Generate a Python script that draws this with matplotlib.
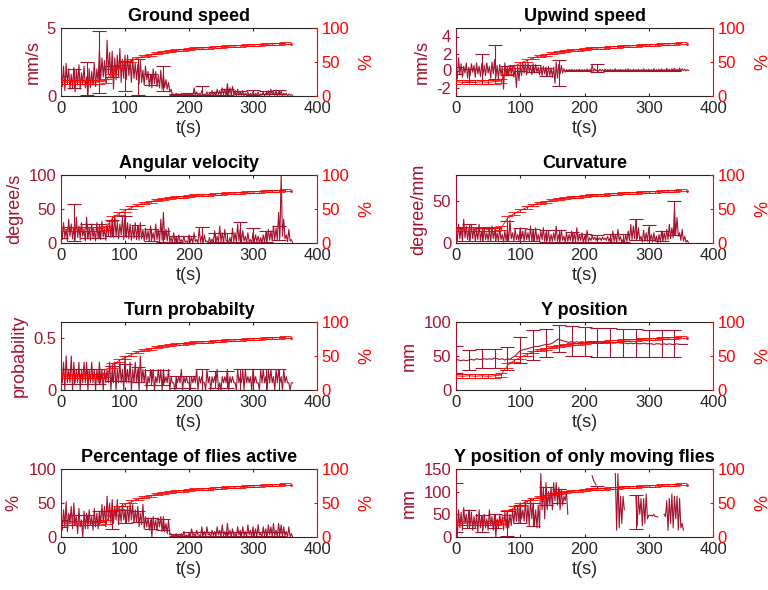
import numpy as np
import matplotlib
matplotlib.use("Agg")
import matplotlib.pyplot as plt
from matplotlib.ticker import FormatStrFormatter

plt.rcParams['font.family'] = ['Liberation Sans', 'DejaVu Sans']

DARK = '#A2142F'
RED = '#FF0000'
GREY = '#262626'
nan = np.nan

# time bins of the traces (s); in every 4 s bin the trace hits a peak (hi) and a trough (lo)
t = np.arange(0, 361, 4)

gs_hi = [1.8, 2.2, 2.4, 2.0, 1.6, 2.1, 1.9, 2.3, 1.7, 2.2,
         1.4, 2.0, 1.8, 2.4, 2.0, 3.4, 2.8, 2.6, 4.1, 3.2,
         3.3, 2.8, 3.0, 3.5, 2.7, 3.0, 3.0, 2.6, 2.8, 2.4,
         2.3, 2.6, 1.9, 2.2, 1.8, 1.6, 2.0, 1.8, 1.5, 1.9,
         1.6, 1.2, 1.0, 0.5, 0.15, 0.2, 0.15, 0.2, 0.2, 0.15,
         0.2, 0.15, 0.6, 0.3, 0.2, 0.4, 0.15, 0.3, 0.2, 0.4,
         0.3, 0.5, 0.4, 0.6, 0.5, 0.9, 0.6, 0.7, 0.4, 0.5,
         0.3, 0.4, 0.2, 0.3, 0.2, 0.3, 0.2, 0.3, 0.15, 0.3,
         0.2, 0.4, 0.5, 0.3, 0.4, 0.3, 0.35, 0.2, 0.2, 0.15,
         0.1]
gs_lo = [0.7, 0.4, 0.9, 0.5, 0.6, 0.3, 0.8, 0.5, 0.9, 0.6,
         0.0, 0.6, 0.8, 0.7, 1.0, 1.2, 1.4, 1.0, 1.6, 1.3,
         0.5, 1.2, 1.4, 1.0, 1.3, 1.2, 1.5, 1.0, 1.3, 1.2,
         0.9, 1.0, 0.8, 1.2, 0.7, 0.6, 0.9, 0.7, 0.6, 0.5,
         0.6, 0.5, 0.3, 0.1, 0.05, 0.1, 0.05, 0.1, 0.05, 0.05,
         0.05, 0.0, 0.05, 0.0, 0.05, 0.0, 0.05, 0.0, 0.05, 0.0,
         0.0, 0.1, 0.05, 0.1, 0.0, 0.1, 0.05, 0.1, 0.0, 0.05,
         0.05, 0.0, 0.05, 0.0, 0.05, 0.0, 0.05, 0.0, 0.05, 0.0,
         0.05, 0.0, 0.1, 0.05, 0.0, 0.05, 0.0, 0.05, 0.0, 0.05,
         0.05]

up_hi = [0.3, 1.5, 0.8, 0.5, 0.9, 0.4, 0.8, 0.6, 0.9, 0.5,
         0.8, 0.6, 0.9, 0.5, 1.0, 1.3, 0.6, 0.7, 0.4, 0.9,
         0.5, 0.6, 0.4, 0.3, 0.5, 0.6, 1.0, 0.8, 0.9, 0.6,
         0.8, 0.7, 0.4, 0.6, 0.5, 0.4, 0.5, 0.3, 0.4, 1.0,
         0.7, 0.6, 0.2, 0.1, 0.1, 0.15, 0.1, 0.1, 0.15, 0.1,
         0.1, 0.15, 0.1, 0.6, 0.2, 0.1, 0.15, 0.1, 0.15, 0.1,
         0.15, 0.1, 0.2, 0.1, 0.15, 0.1, 0.15, 0.2, 0.1, 0.15,
         0.1, 0.15, 0.1, 0.2, 0.1, 0.15, 0.1, 0.2, 0.1, 0.15,
         0.2, 0.1, 0.25, 0.15, 0.2, 0.25, 0.15, 0.3, 0.2, 0.15,
         0.1]
up_lo = [-1.0, -0.5, -0.8, -0.3, -0.9, -0.6, -0.2, -0.8, -0.4, -0.7,
         -0.5, -0.6, -0.3, -0.9, -0.4, -0.8, -1.0, -0.5, -2.2, -0.6,
         -0.6, -0.4, -0.8, -2.0, -1.2, -0.6, -0.3, -0.5, -0.2, -0.5,
         -0.3, -0.2, -0.5, -0.6, -0.4, -0.7, -0.6, -0.8, -1.5, -0.9,
         -0.4, -0.3, -0.2, -0.1, -0.05, -0.1, -0.05, -0.1, -0.05, -0.1,
         -0.05, -0.1, -0.05, -0.1, -0.05, -0.1, -0.05, -0.1, -0.05, -0.1,
         -0.1, -0.05, -0.1, -0.05, -0.1, -0.05, -0.1, -0.05, -0.1, -0.05,
         -0.05, -0.1, -0.05, -0.1, -0.05, -0.1, -0.05, -0.1, -0.05, -0.1,
         -0.05, -0.1, -0.05, -0.1, 0.0, -0.05, -0.1, -0.05, 0.0, -0.05,
         0.0]

av_hi = [25, 30, 20, 35, 28, 22, 38, 25, 30, 20,
         38, 22, 28, 18, 30, 25, 32, 20, 28, 32,
         35, 40, 30, 28, 38, 45, 30, 28, 25, 30,
         25, 30, 20, 22, 18, 25, 15, 28, 20, 35,
         45, 20, 22, 8, 15, 10, 12, 5, 10, 3,
         12, 8, 15, 5, 22, 10, 12, 3, 8, 6,
         18, 10, 25, 15, 20, 4, 8, 22, 15, 28,
         20, 18, 10, 15, 5, 15, 12, 10, 8, 12,
         15, 20, 18, 25, 22, 45, 100, 35, 12, 20,
         5]
av_lo = [5, 8, 3, 10, 6, 4, 8, 5, 10, 3,
         6, 4, 8, 3, 7, 5, 9, 4, 10, 8,
         8, 10, 6, 12, 5, 8, 6, 4, 7, 5,
         4, 6, 3, 5, 2, 6, 3, 5, 2, 4,
         5, 3, 2, 0, 1, 0, 2, 0, 1, 0,
         1, 0, 2, 0, 1, 0, 2, 0, 0, 0,
         0, 1, 2, 0, 3, 0, 0, 2, 1, 3,
         2, 3, 0, 2, 0, 1, 2, 0, 0, 1,
         2, 4, 3, 5, 4, 8, 10, 6, 2, 3,
         0]

cu_hi = [15, 22, 18, 28, 20, 16, 22, 18, 15, 22,
         14, 18, 12, 16, 20, 15, 12, 18, 10, 14,
         15, 27, 12, 16, 10, 18, 14, 16, 12, 20,
         15, 18, 10, 14, 18, 12, 14, 10, 12, 20,
         10, 15, 8, 12, 10, 14, 12, 18, 10, 12,
         8, 15, 6, 8, 7, 7, 6, 7, 6, 8,
         6, 14, 10, 16, 8, 4, 10, 14, 22, 20,
         27, 18, 8, 15, 12, 18, 10, 12, 8, 10,
         14, 12, 16, 22, 18, 40, 30, 12, 16, 8,
         3]
cu_lo = [3, 5, 2, 6, 4, 3, 5, 2, 4, 3,
         2, 4, 3, 2, 5, 3, 2, 4, 1, 3,
         3, 5, 2, 4, 3, 5, 2, 4, 3, 2,
         2, 3, 2, 4, 2, 3, 1, 2, 3, 2,
         2, 3, 1, 2, 3, 2, 1, 2, 3, 1,
         1, 2, 3, 4, 3, 4, 3, 4, 3, 2,
         1, 2, 1, 3, 1, 0, 2, 3, 4, 5,
         5, 3, 1, 2, 2, 3, 1, 2, 0, 1,
         2, 3, 4, 5, 6, 10, 8, 3, 2, 1,
         0]

tp_hi = [0.2, 0.27, 0.33, 0.2, 0.33, 0.27, 0.2, 0.27, 0.2, 0.27,
         0.27, 0.2, 0.27, 0.2, 0.2, 0.27, 0.2, 0.2, 0.2, 0.27,
         0.2, 0.27, 0.2, 0.27, 0.2, 0.33, 0.2, 0.27, 0.2, 0.27,
         0.2, 0.33, 0.2, 0.2, 0.13, 0.2, 0.2, 0.13, 0.2, 0.2,
         0.2, 0.13, 0.2, 0.13, 0.07, 0.13, 0.13, 0.2, 0.13, 0.13,
         0.07, 0.13, 0.13, 0.2, 0.13, 0.13, 0.07, 0.2, 0.13, 0.13,
         0.13, 0.2, 0.07, 0.13, 0.13, 0.2, 0.13, 0.13, 0.07, 0.2,
         0.13, 0.2, 0.2, 0.13, 0.13, 0.2, 0.13, 0.07, 0.2, 0.2,
         0.13, 0.2, 0.2, 0.13, 0.2, 0.2, 0.13, 0.2, 0.13, 0.07,
         0.07]
tp_lo = [0.07, 0.0, 0.07, 0.07, 0.0, 0.07, 0.07, 0.0, 0.07, 0.07,
         0.0, 0.07, 0.07, 0.0, 0.07, 0.07, 0.0, 0.07, 0.07, 0.0,
         0.07, 0.0, 0.07, 0.07, 0.0, 0.07, 0.07, 0.0, 0.07, 0.07,
         0.0, 0.07, 0.07, 0.0, 0.07, 0.07, 0.0, 0.07, 0.07, 0.0,
         0.07, 0.07, 0.0, 0.07, 0.0, 0.07, 0.07, 0.0, 0.07, 0.07,
         0.0, 0.07, 0.07, 0.0, 0.07, 0.07, 0.0, 0.07, 0.0, 0.07,
         0.07, 0.0, 0.0, 0.07, 0.07, 0.0, 0.07, 0.07, 0.0, 0.07,
         0.07, 0.0, 0.07, 0.07, 0.0, 0.07, 0.07, 0.0, 0.07, 0.07,
         0.0, 0.07, 0.07, 0.0, 0.07, 0.07, 0.0, 0.07, 0.07, 0.0,
         0.07]

ac_hi = [30, 40, 52, 35, 45, 50, 30, 42, 25, 38,
         35, 40, 30, 42, 35, 38, 48, 45, 60, 50,
         55, 45, 55, 40, 48, 38, 45, 50, 48, 40,
         45, 35, 48, 30, 28, 25, 30, 25, 28, 30,
         30, 20, 25, 5, 3, 5, 3, 5, 8, 3,
         5, 12, 5, 10, 3, 15, 8, 15, 5, 10,
         8, 15, 10, 18, 8, 20, 10, 12, 5, 15,
         10, 15, 8, 18, 10, 15, 12, 18, 5, 15,
         12, 18, 15, 20, 10, 20, 18, 15, 8, 15,
         5]
ac_lo = [10, 15, 8, 20, 12, 18, 5, 15, 0, 12,
         12, 18, 10, 15, 12, 20, 22, 15, 25, 20,
         20, 25, 18, 22, 25, 20, 22, 25, 20, 22,
         15, 18, 12, 15, 10, 0, 12, 10, 15, 8,
         8, 5, 3, 0, 0, 0, 0, 0, 0, 0,
         0, 2, 0, 3, 0, 2, 0, 3, 0, 2,
         0, 3, 0, 2, 0, 3, 0, 2, 0, 3,
         0, 2, 0, 3, 0, 2, 0, 3, 0, 2,
         0, 3, 0, 2, 0, 3, 0, 2, 0, 0,
         0]

my_hi = [75, 60, 55, 65, 50, 60, 55, 45, 50, 60,
         45, 50, 40, 60, 45, 50, 40, 50, 45, 55,
         55, 50, 60, 65, 70, 75, 60, 80, 70, 85,
         75, 60, 70, 140, 110, 120, 100, 110, 120, 120,
         110, 105, 90, 100, nan, nan, nan, nan, nan, nan,
         nan, nan, nan, 135, 120, nan, nan, nan, nan, nan,
         nan, nan, 140, 140, 90, 90, nan, nan, nan, nan,
         90, 90, 85, 85, 95, 48, 48, 50, 45, nan,
         nan, 50, 80, 85, 95, 90, 90, 85, 30, nan,
         nan]
my_lo = [0, 20, 15, 30, 20, 25, 15, 20, 10, 20,
         15, 20, 15, 25, 15, 0, 20, 25, 15, 20,
         20, 25, 30, 35, 30, 40, 35, 30, 25, 40,
         25, 20, 20, 60, 40, 60, 70, 60, 80, 70,
         60, 70, 80, 50, nan, nan, nan, nan, nan, nan,
         nan, nan, nan, 125, 115, nan, nan, nan, nan, nan,
         nan, nan, 15, 20, 30, 60, nan, nan, nan, nan,
         25, 50, 25, 30, 40, 47, 46, 45, 44, nan,
         nan, 45, 15, 30, 20, 40, 15, 20, 15, nan,
         nan]

# Y position is a smooth trace, one value per bin
y_position = [45, 44, 43, 44, 43, 44, 45, 44, 46, 45,
              45, 46, 45, 46, 45, 47, 46, 45, 46, 44,
              46, 45, 48, 50, 54, 58, 59, 60, 61, 62,
              63, 64, 64, 65, 66, 67, 67, 68, 70, 73,
              75, 73, 72, 71, 70, 71, 70, 71, 70, 71,
              70, 70, 71, 70, 70, 70, 69, 70, 70, 69,
              70, 69, 69, 70, 69, 69, 69, 68, 69, 68,
              69, 68, 68, 69, 68, 68, 68, 67, 68, 68,
              67, 68, 67, 68, 67, 67, 68, 67, 67, 67,
              67]

# error bars on the traces, every 20 s
eb_t = np.arange(0, 341, 20)
gs_mean = [1.2, 1.3, 1.3, 2.5, 1.8, 1.5, 1.4, 1.2, 1.3, 0.1, 0.15, 0.4, 0.2, 0.3, 0.25, 0.25, 0.25, 0.3]
gs_err = [0.3, 0.7, 1.2, 2.3, 0.4, 1.1, 1.3, 0.4, 0.9, 0.05, 0.1, 0.35, 0.1, 0.2, 0.1, 0.2, 0.1, 0.15]
up_mean = [0.0, -0.6, 0.2, 1.0, 0.0, 0.3, 0.2, -0.2, -0.3, 0.0, 0.0, 0.3, 0.0, 0.0, 0.0, 0.0, 0.0, 0.0]
up_err = [0.4, 0.8, 1.8, 2.0, 0.5, 0.4, 0.4, 0.5, 1.5, 0.1, 0.1, 0.5, 0.1, 0.1, 0.1, 0.1, 0.1, 0.1]
av_mean = [15, 30, 18, 18, 22, 25, 18, 12, 10, 6, 5, 12, 8, 8, 16, 12, 10, 15]
av_err = [8, 27, 10, 10, 12, 15, 8, 9, 8, 5, 5, 12, 6, 6, 15, 10, 8, 10]
cu_mean = [10, 12, 10, 10, 14, 10, 9, 8, 8, 7, 6, 5, 6, 6, 16, 12, 8, 30]
cu_err = [8, 10, 8, 8, 12, 8, 7, 7, 7, 6, 5, 4, 5, 5, 12, 9, 6, 20]
tp_mean = [0.13, 0.13, 0.13, 0.13, 0.16, 0.17, 0.15, 0.12, 0.12, 0.08, 0.08, 0.1, 0.1, 0.1, 0.1, 0.1, 0.1, 0.1]
tp_err = [0.07, 0.07, 0.07, 0.07, 0.07, 0.08, 0.07, 0.07, 0.07, 0.06, 0.06, 0.1, 0.08, 0.08, 0.1, 0.1, 0.1, 0.1]
yp_mean = [45, 44, 46, 46, 46, 59, 66, 69, 76, 72, 71, 70, 70, 69, 69, 68, 68, 68]
yp_err = [20, 15, 14, 14, 17, 19, 22, 21, 20, 22, 21, 21, 21, 21, 21, 20, 20, 20]
ac_mean = [20, 25, 25, 30, 25, 30, 30, 20, 18, 3, 4, 5, 5, 5, 5, 5, 5, 5]
ac_err = [5, 8, 8, 8, 13, 10, 8, 8, 8, 2, 3, 3, 3, 3, 3, 3, 3, 3]
my_mean = [65, 40, 30, 35, 30, 50, 50, 90, 90, nan, nan, 110, nan, nan, 55, nan, nan, nan]
my_err = [55, 20, 18, 15, 27, 20, 25, 20, 15, nan, nan, 3, nan, nan, 37, nan, nan, nan]

# right axis: % of flies (same in every panel), every 10 s
pct_t = np.arange(0, 351, 10)
pct = [21, 20, 21, 20, 21, 20, 21, 22, 36, 43, 48, 52, 56, 59, 61, 63, 65, 66,
       67, 68, 69, 70, 70.5, 71, 72, 72.5, 73, 73.5, 74, 74.5, 75, 75.5, 76, 76.5, 77, 77.5]
pct_err = [3, 3, 3, 3, 3, 3, 3, 3, 3, 2.5, 2.5, 2, 2, 2, 1.5, 1.5, 1.5, 1.5,
           1.5, 1.5, 1.5, 1.5, 1.5, 1.5, 1.5, 1.5, 1.5, 1.5, 1.5, 1.5, 1.5, 1.5, 1.5, 1.5, 1.5, 1.5]
pct_last_t = [360]
pct_last = [77]


def zigzag(hi, lo):
    # peak at the start of each 4 s bin, trough 2 s later
    tt = np.column_stack([t, t + 2]).ravel()
    yy = np.column_stack([hi, lo]).ravel()
    return tt, yy


panels = [
    ("Ground speed", zigzag(gs_hi, gs_lo), gs_mean, gs_err, (0, 5), [0, 5], "mm/s"),
    ("Upwind speed", zigzag(up_hi, up_lo), up_mean, up_err, (-3, 5), [-2, 0, 2, 4], "mm/s"),
    ("Angular velocity", zigzag(av_hi, av_lo), av_mean, av_err, (0, 100), [0, 50, 100], "degree/s"),
    ("Curvature", zigzag(cu_hi, cu_lo), cu_mean, cu_err, (0, 80), [0, 50], "degree/mm"),
    ("Turn probabilty", zigzag(tp_hi, tp_lo), tp_mean, tp_err, (0, 0.66), [0, 0.5], "probability"),
    ("Y position", (t, y_position), yp_mean, yp_err, (0, 100), [0, 50, 100], "mm"),
    ("Percentage of flies active", zigzag(ac_hi, ac_lo), ac_mean, ac_err, (0, 100), [0, 50, 100], "%"),
    ("Y position of only moving flies", zigzag(my_hi, my_lo), my_mean, my_err, (0, 150), [0, 50, 100, 150], "mm"),
]

fig = plt.figure(figsize=(7.68, 5.9), dpi=100)
W, H = 768.0, 590.0
col_left = [61, 456]
col_width = [256, 257]
row_top = [28, 175, 322, 469]
row_h = 68

for i, (title, (tx, ty), m, e, ylim, yticks, ylab) in enumerate(panels):
    r, c = i // 2, i % 2
    ax = fig.add_axes([col_left[c] / W, 1 - (row_top[r] + row_h) / H,
                       col_width[c] / W, row_h / H])
    ax.plot(tx, ty, color=DARK, lw=0.8)
    ax.errorbar(eb_t, m, yerr=e, fmt='none', ecolor=DARK, elinewidth=0.8,
                capsize=5, capthick=0.8)
    ax.set_xlim(0, 400)
    ax.set_ylim(*ylim)
    ax.set_yticks(yticks)
    ax.yaxis.set_major_formatter(FormatStrFormatter('%g'))
    ax.set_xticks([0, 100, 200, 300, 400])
    ax.set_title(title, fontsize=13, fontweight='bold', pad=5)
    ax.set_xlabel("t(s)", fontsize=13, color=GREY, labelpad=3)
    ax.set_ylabel(ylab, fontsize=13, color=DARK, labelpad=4)
    ax.tick_params(axis='x', direction='in', length=2.5, labelsize=12,
                   colors=GREY, top=True)
    ax.tick_params(axis='y', direction='in', length=2.5, labelsize=12,
                   colors=DARK)
    for s in ['top', 'bottom']:
        ax.spines[s].set_color(GREY)
    ax.spines['left'].set_color(DARK)
    ax.spines['right'].set_visible(False)

    ax2 = ax.twinx()
    ax2.errorbar(pct_t, pct, yerr=pct_err, color=RED, lw=0.6, elinewidth=0.6,
                 capsize=4.3, capthick=0.6)
    ax2.plot(pct_last_t, pct_last, '.', color=RED, ms=2)
    ax2.set_ylim(0, 100)
    ax2.set_yticks([0, 50, 100])
    ax2.set_ylabel("%", fontsize=13, color=RED, labelpad=6)
    ax2.tick_params(axis='y', direction='in', length=2.5, labelsize=12,
                    colors=RED)
    ax2.spines['right'].set_color(RED)
    ax2.spines['left'].set_visible(False)
    ax2.spines['top'].set_visible(False)
    ax2.spines['bottom'].set_visible(False)

fig.savefig("out.png", dpi=100)
